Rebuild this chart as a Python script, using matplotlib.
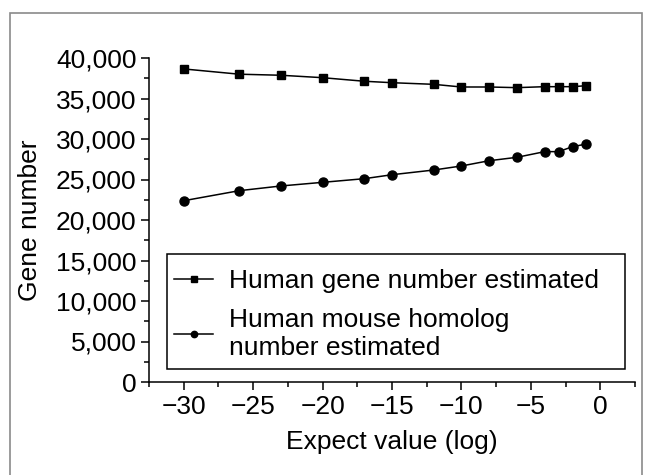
import matplotlib
matplotlib.use("Agg")
import matplotlib.pyplot as plt
from matplotlib.ticker import MultipleLocator, FuncFormatter
from matplotlib.patches import Rectangle

plt.rcParams['font.family'] = ['Liberation Sans', 'DejaVu Sans']

expect_log = [-30, -26, -23, -20, -17, -15, -12, -10, -8, -6, -4, -3, -2, -1]
gene_number = [38650, 38000, 37870, 37570, 37130, 36950, 36750, 36420,
               36420, 36340, 36460, 36460, 36460, 36580]
homolog_number = [22380, 23620, 24200, 24650, 25100, 25590, 26170, 26670,
                  27320, 27740, 28440, 28440, 29050, 29380]
label_gene = "Human gene number estimated"
label_homolog = "Human mouse homolog\nnumber estimated"

fig = plt.figure(figsize=(6.45, 4.75), dpi=100)
ax = fig.add_axes([149 / 645, 1 - 382 / 475, 486 / 645, 324 / 475])

# grey frame around the whole figure
fig.patches.append(Rectangle((10 / 645, -0.05), 632 / 645, 1.05 - 13 / 475,
                             transform=fig.transFigure, fill=False,
                             edgecolor="#8a8a8a", linewidth=1.2))

ax.plot(expect_log, gene_number, color="black", lw=1.1, marker="s", ms=5.5,
        label=label_gene)
ax.plot(expect_log, homolog_number, color="black", lw=1.1, marker="o", ms=6.5,
        label=label_homolog)

ax.set_xlim(-32.5, 2.5)
ax.set_ylim(0, 40000)
ax.xaxis.set_major_locator(MultipleLocator(5))
ax.xaxis.set_minor_locator(MultipleLocator(2.5))
ax.yaxis.set_major_locator(MultipleLocator(5000))
ax.yaxis.set_minor_locator(MultipleLocator(2500))
ax.yaxis.set_major_formatter(FuncFormatter(lambda v, p: f"{int(v):,}"))

for s in ["top", "right"]:
    ax.spines[s].set_visible(False)
for s in ["left", "bottom"]:
    ax.spines[s].set_linewidth(1.1)

ax.tick_params(which="major", length=6, width=1.1, labelsize=19, pad=3)
ax.tick_params(which="minor", length=3.5, width=1.1)

ax.set_xlabel("Expect value (log)", fontsize=19, labelpad=8)
ax.set_ylabel("Gene number", fontsize=19, labelpad=10)

# legend box drawn by hand, legend content placed inside it
ax.add_patch(Rectangle((0.037, 0.040), 0.942, 0.355, transform=ax.transAxes,
                       fill=False, edgecolor="black", linewidth=1.1,
                       clip_on=False, zorder=3))
leg = ax.legend(loc="center left", bbox_to_anchor=((174 - 149) / 486, 0.208),
                fontsize=19, frameon=False, handlelength=1.48,
                handletextpad=0.6, borderpad=0, labelspacing=0.55,
                borderaxespad=0, markerscale=0.7)

fig.savefig("out.png", dpi=100)
